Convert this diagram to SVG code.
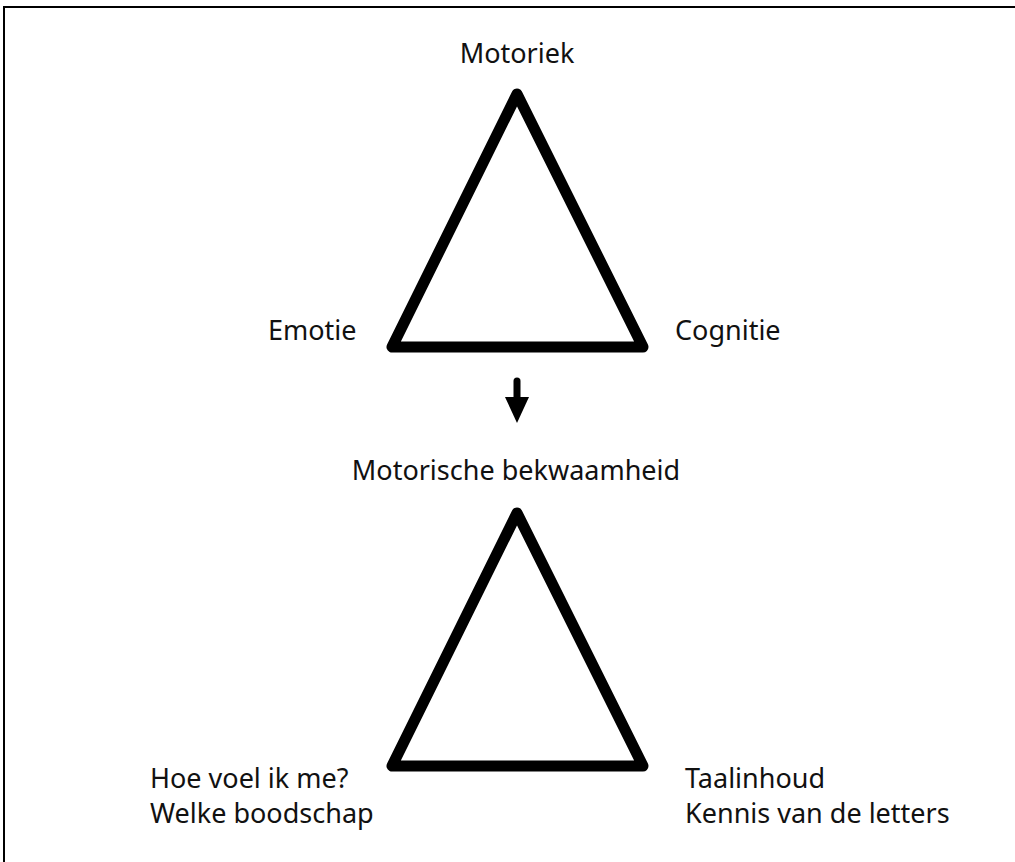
<svg xmlns="http://www.w3.org/2000/svg" width="1015" height="862" viewBox="0 0 1015 862">
<style>
.tri{fill:none;stroke:#000;stroke-width:11;stroke-linejoin:round;stroke-linecap:round}
.lbl{font-family:"Noto Sans","Open Sans",sans-serif;font-size:27px;fill:#111}
</style>
<rect x="0" y="0" width="1015" height="862" fill="#fff"/>
<rect x="4" y="7" width="1030" height="880" fill="none" stroke="#000" stroke-width="2"/>
<g id="node-triangle-top">
<polygon class="tri" points="517,94 392,347 643,347"/>
<text class="lbl" x="517" y="63" text-anchor="middle">Motoriek</text>
<text class="lbl" x="268" y="340">Emotie</text>
<text class="lbl" x="675" y="340">Cognitie</text>
</g>
<g id="connectors">
<line x1="517" y1="381" x2="517" y2="400" stroke="#000" stroke-width="7" stroke-linecap="round"/>
<polygon points="505,397 529,397 517,423" fill="#000"/>
</g>
<g id="node-triangle-bottom">
<text class="lbl" x="516" y="480" text-anchor="middle">Motorische bekwaamheid</text>
<polygon class="tri" points="517,513 392,766 643,766"/>
<text class="lbl" x="150" y="788">Hoe voel ik me?</text>
<text class="lbl" x="150" y="823">Welke boodschap</text>
<text class="lbl" x="685" y="788">Taalinhoud</text>
<text class="lbl" x="685" y="823">Kennis van de letters</text>
</g>
</svg>
